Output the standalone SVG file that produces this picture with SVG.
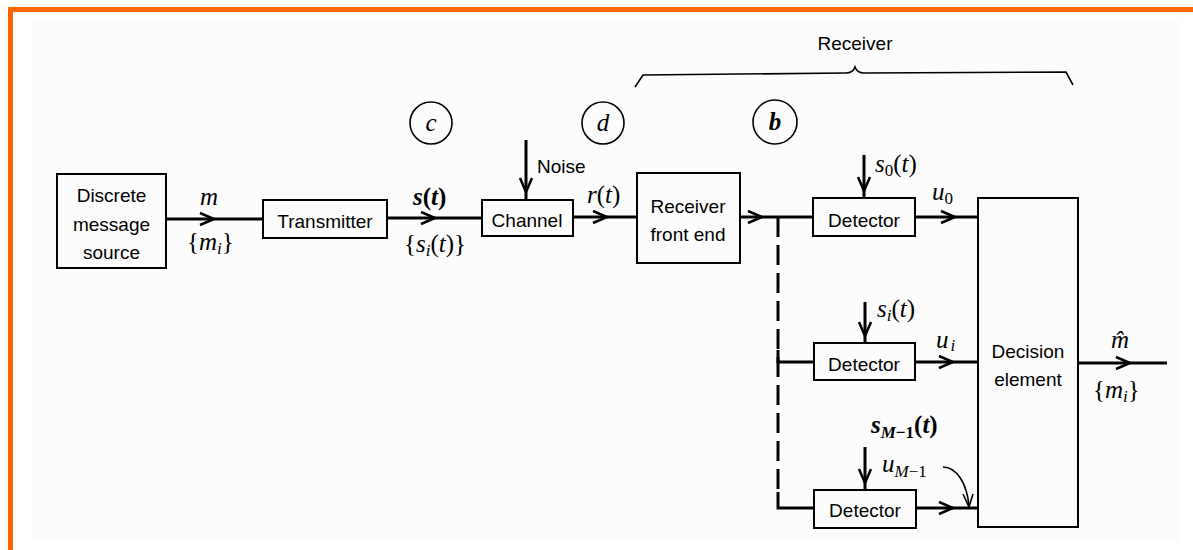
<svg xmlns="http://www.w3.org/2000/svg" width="1193" height="550" viewBox="0 0 1193 550">
<defs>
<style>
.box{fill:none;stroke:#000;stroke-width:2}
.ln{fill:none;stroke:#000;stroke-width:3}
.arr{fill:none;stroke:#000;stroke-width:2.5;stroke-linejoin:miter}
.thin{fill:none;stroke:#000;stroke-width:1.6}
.lbl{font-family:"Liberation Sans",Arial,sans-serif;font-size:19px;fill:#000;text-anchor:middle}
.lbs{font-family:"Liberation Sans",Arial,sans-serif;font-size:19px;fill:#000}
.math{font-family:"Liberation Serif","Times New Roman",serif;font-size:25px;font-style:italic;fill:#000}
.up{font-style:normal}
.sub{font-size:17px}
.circ{fill:none;stroke:#000;stroke-width:1.6}
</style>
<path id="ar" class="arr" d="M-14,-6 L0,0 L-14,6"/>
<path id="ad" class="arr" d="M-6,-14 L0,0 L6,-14"/>
</defs>
<rect x="0" y="0" width="1193" height="550" fill="#ffffff"/>
<rect x="33" y="20" width="1147" height="522" fill="#fcfcfc"/>
<rect x="8" y="7" width="1185" height="5" fill="#ff6600"/>
<rect x="8" y="7" width="5" height="543" fill="#ff6600"/>

<g id="connectors">
<path class="ln" d="M166,219 H263"/><use href="#ar" x="214" y="219"/>
<path class="ln" d="M387,218 H482"/><use href="#ar" x="435" y="218"/>
<path class="ln" d="M526,140 V200"/><use href="#ad" x="526" y="192"/>
<path class="ln" d="M573,217 H637"/><use href="#ar" x="607" y="217"/>
<path class="ln" d="M740,217 H813"/><use href="#ar" x="762" y="217"/>
<path class="ln" d="M778,217 V490" stroke-dasharray="20 8"/>
<path class="ln" d="M778,350 V362 H814"/>
<path class="ln" d="M778,492 V508 H814"/>
<path class="ln" d="M864,155 V198"/><use href="#ad" x="864" y="191"/>
<path class="ln" d="M865,302 V343"/><use href="#ad" x="865" y="336"/>
<path class="ln" d="M865,447 V490"/><use href="#ad" x="865" y="483"/>
<path class="ln" d="M915,217 H978"/><use href="#ar" x="955" y="217"/>
<path class="ln" d="M915,362 H978"/><use href="#ar" x="953" y="362"/>
<path class="ln" d="M916,508 H978"/><use href="#ar" x="953" y="508"/>
<path class="ln" d="M1078,363 H1167"/><use href="#ar" x="1130" y="363"/>
<path class="thin" d="M943,467 C957,467 967,484 969,506"/>
<path class="thin" d="M963,494 L969,507 L973,494"/>
<path class="thin" d="M635,87 L643,75 L846,73 Q853,73 855,67 Q857,73 864,73 L1066,72 L1073,85"/>
</g>

<g id="source"><rect class="box" x="57" y="174" width="109" height="94"/>
<text class="lbl" x="111.5" y="202">Discrete</text><text class="lbl" x="111.5" y="231">message</text><text class="lbl" x="111.5" y="259">source</text></g>
<g id="transmitter"><rect class="box" x="263" y="200" width="124" height="38"/><text class="lbl" x="325" y="228">Transmitter</text></g>
<g id="channel"><rect class="box" x="482" y="200" width="91" height="36"/><text class="lbl" x="527" y="227">Channel</text></g>
<g id="frontend"><rect class="box" x="637" y="173" width="103" height="90"/>
<text class="lbl" x="688" y="213">Receiver</text><text class="lbl" x="688" y="241">front end</text></g>
<g id="detector0"><rect class="box" x="813" y="198" width="102" height="38"/><text class="lbl" x="864" y="227">Detector</text></g>
<g id="detectori"><rect class="box" x="814" y="343" width="101" height="37"/><text class="lbl" x="864" y="371">Detector</text></g>
<g id="detectorM"><rect class="box" x="814" y="490" width="102" height="38"/><text class="lbl" x="865" y="517">Detector</text></g>
<g id="decision"><rect class="box" x="978" y="198" width="100" height="329"/>
<text class="lbl" x="1028" y="358">Decision</text><text class="lbl" x="1028" y="386">element</text></g>

<g id="labels">
<text class="lbl" x="855" y="50">Receiver</text>
<text class="lbs" x="537" y="173">Noise</text>
<circle class="circ" cx="431" cy="123" r="21"/><text class="math" x="431" y="131" text-anchor="middle">c</text>
<circle class="circ" cx="603" cy="123" r="21"/><text class="math" x="603" y="131" text-anchor="middle">d</text>
<circle class="circ" cx="775" cy="122" r="22"/><text class="math" x="775" y="130" text-anchor="middle" font-weight="bold">b</text>
<text class="math" x="200" y="205">m</text>
<text class="math" x="187" y="250"><tspan class="up">{</tspan>m<tspan class="sub" dy="4">i</tspan><tspan class="up" dy="-4">}</tspan></text>
<text class="math" x="413" y="205" font-weight="bold">s<tspan class="up">(</tspan>t<tspan class="up">)</tspan></text>
<text class="math" x="404" y="252"><tspan class="up">{</tspan>s<tspan class="sub" dy="4">i</tspan><tspan class="up" dy="-4">(</tspan>t<tspan class="up">)}</tspan></text>
<text class="math" x="587" y="203">r<tspan class="up">(</tspan>t<tspan class="up">)</tspan></text>
<text class="math" x="875" y="172">s<tspan class="sub up" dy="4">0</tspan><tspan class="up" dy="-4">(</tspan>t<tspan class="up">)</tspan></text>
<text class="math" x="932" y="200">u<tspan class="sub up" dy="4">0</tspan></text>
<text class="math" x="877" y="317">s<tspan class="sub" dy="4">i</tspan><tspan class="up" dy="-4">(</tspan>t<tspan class="up">)</tspan></text>
<text class="math" x="936" y="348">u<tspan class="sub" dy="3" dx="2">i</tspan></text>
<text class="math" x="871" y="433" font-weight="bold">s<tspan class="sub" dy="5">M<tspan class="up">−1</tspan></tspan><tspan class="up" dy="-5">(</tspan>t<tspan class="up">)</tspan></text>
<text class="math" x="882" y="472">u<tspan class="sub" dy="5">M<tspan class="up">−1</tspan></tspan></text>
<text class="math" x="1111" y="348">m̂</text>
<text class="math" x="1093" y="398"><tspan class="up">{</tspan>m<tspan class="sub" dy="4">i</tspan><tspan class="up" dy="-4">}</tspan></text>
</g>
</svg>
